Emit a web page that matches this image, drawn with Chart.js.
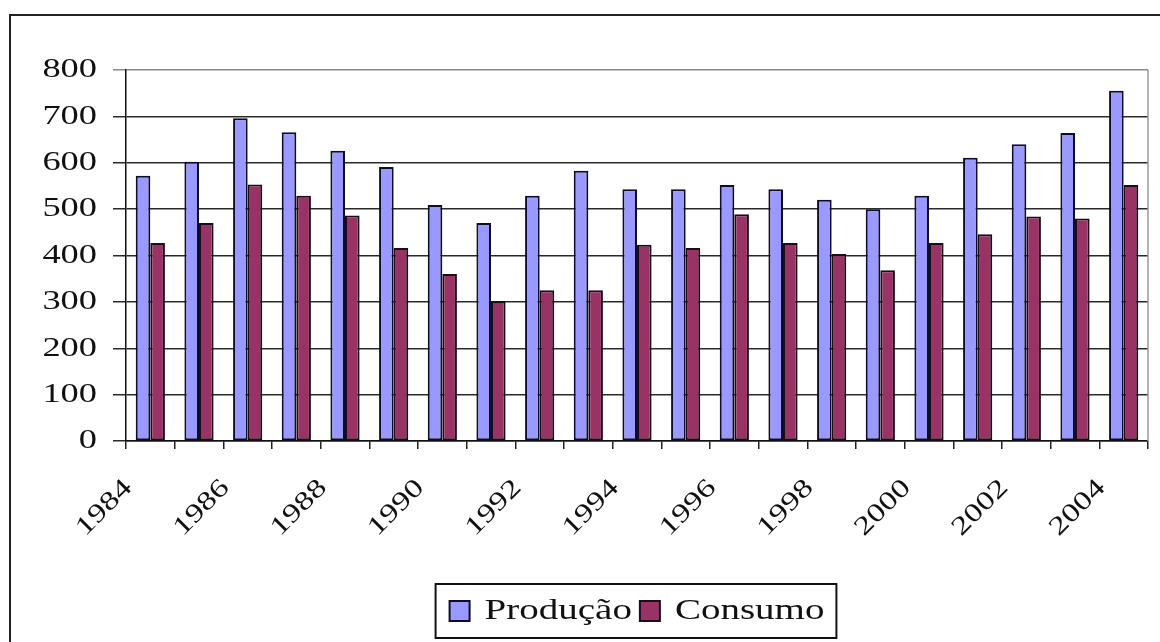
<!DOCTYPE html>
<html>
<head>
<meta charset="utf-8">
<script src="https://cdn.jsdelivr.net/npm/chart.js@4.4.1/dist/chart.umd.min.js"></script>
<style>
  html, body { margin: 0; padding: 0; background: #fff; }
  #wrap { width: 1160px; height: 642px; position: relative; }
</style>
</head>
<body>
<div id="wrap"><canvas id="c" width="1160" height="642"></canvas></div>
<script>
const years = ['1984','1985','1986','1987','1988','1989','1990','1991','1992','1993','1994','1995','1996','1997','1998','1999','2000','2001','2002','2003','2004'];
const producao = [572, 602, 696, 666, 626, 591, 509, 470, 529, 583, 543, 543, 552, 543, 520, 500, 529, 611, 640, 664, 755];
const consumo  = [427, 470, 553, 529, 486, 416, 360, 302, 325, 325, 423, 416, 489, 427, 403, 368, 427, 446, 484, 480, 552];
const yTicks = [0, 100, 200, 300, 400, 500, 600, 700, 800];
const seriesNames = ['Produção', 'Consumo'];

const FONT = '"Liberation Serif", "Times New Roman", serif';
const TEXT_STRETCH = 1.3; // the source image's lettering is horizontally widened

const framePlugin = {
  id: 'frame',
  afterInit(chart) {
    const ctx = chart.ctx;
    const SX = TEXT_STRETCH;
    const origFill = ctx.fillText.bind(ctx);
    const origMeasure = ctx.measureText.bind(ctx);
    ctx.fillText = function(t, x, y, maxW) {
      ctx.save();
      ctx.translate(x, y);
      ctx.scale(SX, 1);
      if (maxW === undefined || maxW === null) origFill(t, 0, 0); else origFill(t, 0, 0, maxW / SX);
      ctx.restore();
    };
    ctx.measureText = function(t) {
      const m = origMeasure(t);
      return {
        width: m.width * SX,
        actualBoundingBoxAscent: m.actualBoundingBoxAscent,
        actualBoundingBoxDescent: m.actualBoundingBoxDescent,
        actualBoundingBoxLeft: m.actualBoundingBoxLeft * SX,
        actualBoundingBoxRight: m.actualBoundingBoxRight * SX,
        fontBoundingBoxAscent: m.fontBoundingBoxAscent,
        fontBoundingBoxDescent: m.fontBoundingBoxDescent
      };
    };
  },
  beforeDraw(chart) {
    const ctx = chart.ctx;
    ctx.save();
    ctx.fillStyle = '#fff';
    ctx.fillRect(0, 0, chart.width, chart.height);
    ctx.strokeStyle = '#222';
    ctx.lineWidth = 2;
    ctx.beginPath();
    ctx.moveTo(10, chart.height + 5);
    ctx.lineTo(10, 15);
    ctx.lineTo(chart.width + 5, 15);
    ctx.stroke();
    ctx.restore();
  },
  afterDraw(chart) {
    const ctx = chart.ctx;
    const a = chart.chartArea;
    ctx.save();
    ctx.strokeStyle = '#999';
    ctx.lineWidth = 1.5;
    ctx.beginPath();
    ctx.moveTo(a.right, a.top);
    ctx.lineTo(a.right, a.bottom);
    ctx.stroke();
    const boxes = chart.legend.legendHitBoxes;
    if (boxes && boxes.length) {
      let x0 = Infinity, x1 = -Infinity, y0 = Infinity, y1 = -Infinity;
      boxes.forEach(b => { x0 = Math.min(x0, b.left); x1 = Math.max(x1, b.left + b.width); y0 = Math.min(y0, b.top); y1 = Math.max(y1, b.top + b.height); });
      ctx.strokeStyle = '#111';
      ctx.lineWidth = 2;
      ctx.strokeRect(x0 - 14, y0 - 12, (x1 - x0) + 26, (y1 - y0) + 24);
    }
    ctx.restore();
  }
};

new Chart(document.getElementById('c'), {
  type: 'bar',
  data: {
    labels: years,
    datasets: [
      { label: seriesNames[0], data: producao, backgroundColor: '#9999ff', borderColor: '#0d0d2a', borderWidth: 2, borderSkipped: false,
        categoryPercentage: 0.6, barPercentage: 1.0 },
      { label: seriesNames[1], data: consumo, backgroundColor: '#993366', borderColor: '#1a0d1a', borderWidth: 2, borderSkipped: false,
        categoryPercentage: 0.6, barPercentage: 1.0 }
    ]
  },
  options: {
    responsive: false,
    animation: false,
    devicePixelRatio: 1,
    layout: { padding: { left: 20, right: 12, top: 70, bottom: 6 } },
    plugins: {
      title: { display: false },
      tooltip: { enabled: false },
      legend: {
        position: 'bottom',
        fullSize: false,
        labels: {
          font: { family: FONT, size: 30 },
          color: '#111',
          boxWidth: 20,
          boxHeight: 20,
          padding: 8
        }
      }
    },
    scales: {
      x: {
        offset: true,
        grid: { display: true, drawOnChartArea: false, drawTicks: true, tickLength: 8, color: '#222', lineWidth: 1.5, offset: true },
        border: { display: true, color: '#111', width: 1.5 },
        ticks: {
          autoSkip: false,
          minRotation: 45,
          maxRotation: 45,
          padding: 24,
          labelOffset: -22,
          color: '#111',
          font: { family: FONT, size: 26 },
          callback: function(v, i) { return i % 2 === 0 ? years[i] : ''; }
        },
        afterFit(scale) { scale.height = 147; scale.paddingLeft = 0; scale.paddingRight = 0; }
      },
      y: {
        min: yTicks[0],
        max: yTicks[yTicks.length - 1],
        afterBuildTicks(scale) { scale.ticks = yTicks.map(v => ({ value: v })); },
        grid: {
          color: ctx => (ctx.tick && ctx.tick.value === 800) ? '#8a8a8a' : '#2a2a2a',
          lineWidth: 1.5,
          tickLength: 13,
          drawTicks: true
        },
        border: { display: true, color: '#111', width: 1.5 },
        ticks: {
          padding: 16,
          color: '#111',
          font: { family: FONT, size: 28 }
        },
        afterFit(scale) { scale.width = 106; scale.paddingTop = 0; scale.paddingBottom = 0; }
      }
    }
  },
  plugins: [framePlugin]
});
</script>
</body>
</html>
